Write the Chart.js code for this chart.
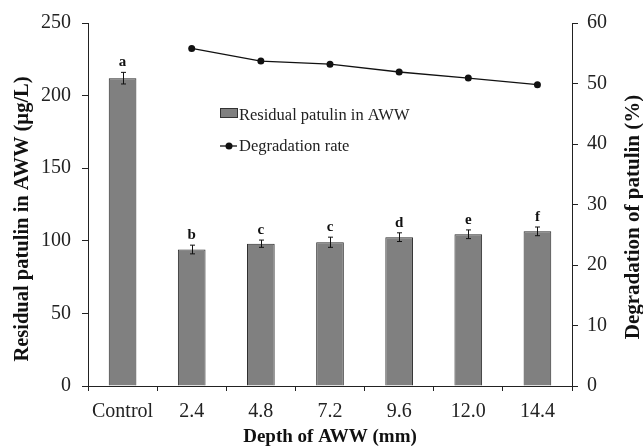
<!DOCTYPE html>
<html><head><meta charset="utf-8">
<script src="https://cdn.jsdelivr.net/npm/chart.js@4/dist/chart.umd.min.js"></script>
<style>html,body{margin:0;padding:0;background:#fff}#wrap{width:643px;height:447px}</style>
</head><body><div id="wrap"><canvas id="c" width="643" height="447"></canvas></div>
<script>
const categories = ['Control', '2.4', '4.8', '7.2', '9.6', '12.0', '14.4'];
const residualPatulin = [212, 94, 98, 99, 102.5, 104.5, 106.5];
const residualError = [4, 3, 2.5, 3.5, 3, 3, 3];
const significanceLetters = ['a', 'b', 'c', 'c', 'd', 'e', 'f'];
const degradationRate = [null, 55.8, 53.7, 53.2, 51.9, 50.9, 49.8];
const leftAxisRange = [0, 250, 50];
const rightAxisRange = [0, 60, 10];
const barLabel = 'Residual patulin in AWW';
const lineLabel = 'Degradation rate';
const xTitle = 'Depth of AWW (mm)';
const yTitle = 'Residual patulin in AWW (\u00b5g/L)';
const y1Title = 'Degradation of patulin (%)';

const SERIF = '"Liberation Serif", "Times New Roman", serif';
const INK = '#222';

const extras = {
  id: 'extras',
  afterDatasetsDraw(chart) {
    const ctx = chart.ctx;
    const y = chart.scales.y;
    const meta = chart.getDatasetMeta(1);
    ctx.save();
    ctx.strokeStyle = '#111';
    ctx.lineWidth = 1;
    ctx.fillStyle = '#111';
    ctx.font = 'bold 15px ' + SERIF;
    ctx.textAlign = 'center';
    ctx.textBaseline = 'alphabetic';
    meta.data.forEach((bar, i) => {
      const x = Math.round(bar.x) + 0.5;
      const yt = y.getPixelForValue(residualPatulin[i] + residualError[i]);
      const yb = y.getPixelForValue(residualPatulin[i] - residualError[i]);
      ctx.beginPath();
      ctx.moveTo(x, yt); ctx.lineTo(x, yb);
      ctx.moveTo(x - 2.5, yt); ctx.lineTo(x + 2.5, yt);
      ctx.moveTo(x - 2.5, yb); ctx.lineTo(x + 2.5, yb);
      ctx.stroke();
      ctx.fillText(significanceLetters[i], bar.x, yt - 6);
    });
    // legend
    const ca = chart.chartArea;
    const lx = ca.left + 132, ly = ca.top + 85;
    ctx.fillStyle = '#808080';
    ctx.fillRect(lx, ly, 18, 10);
    ctx.strokeStyle = '#333';
    ctx.strokeRect(lx + 0.5, ly + 0.5, 17, 9);
    ctx.fillStyle = INK;
    ctx.font = '16.5px ' + SERIF;
    ctx.textAlign = 'left';
    ctx.fillText(barLabel, lx + 19, ly + 12);
    const ly2 = ly + 38;
    ctx.strokeStyle = '#111';
    ctx.lineWidth = 1.3;
    ctx.beginPath(); ctx.moveTo(lx, ly2); ctx.lineTo(lx + 17, ly2); ctx.stroke();
    ctx.fillStyle = '#111';
    ctx.beginPath(); ctx.arc(lx + 9, ly2, 3.5, 0, Math.PI * 2); ctx.fill();
    ctx.fillStyle = INK;
    ctx.fillText(lineLabel, lx + 19, ly2 + 5);
    // axis titles, reading bottom to top
    ctx.font = 'bold 20.5px ' + SERIF;
    ctx.textAlign = 'center';
    ctx.textBaseline = 'middle';
    ctx.fillStyle = '#111';
    ctx.save();
    ctx.translate(23, 219);
    ctx.rotate(-Math.PI / 2);
    ctx.fillText(yTitle, 0, 0);
    ctx.restore();
    ctx.save();
    ctx.translate(634, 217);
    ctx.rotate(-Math.PI / 2);
    ctx.font = 'bold 21px ' + SERIF;
    ctx.fillText(y1Title, 0, 0);
    ctx.restore();
    ctx.restore();
  }
};

new Chart(document.getElementById('c'), {
  data: {
    labels: categories,
    datasets: [
      {
        type: 'line', label: lineLabel, data: degradationRate, yAxisID: 'y1',
        borderColor: '#111', borderWidth: 1.3, backgroundColor: '#111',
        pointRadius: 3.5, pointBackgroundColor: '#111', pointBorderWidth: 0,
        tension: 0, spanGaps: false, order: 0
      },
      {
        type: 'bar', label: barLabel, data: residualPatulin, yAxisID: 'y',
        backgroundColor: '#808080', borderColor: '#2a2a2a', borderWidth: 1,
        barPercentage: 0.4, categoryPercentage: 1, order: 1
      }
    ]
  },
  options: {
    responsive: false, animation: false, devicePixelRatio: 1,
    layout: { padding: { top: 22, left: 0, right: 0, bottom: 0 } },
    plugins: { legend: { display: false }, tooltip: { enabled: false } },
    scales: {
      x: {
        type: 'category', offset: true,
        grid: { display: true, drawOnChartArea: false, offset: true, tickLength: 5, color: INK, lineWidth: 1 },
        border: { display: true, color: INK, width: 1 },
        ticks: { color: INK, font: { family: SERIF, size: 20 }, padding: 9 },
        title: { display: true, text: xTitle, color: '#111', font: { family: SERIF, size: 19, weight: 'bold', lineHeight: 1 }, padding: { top: 0, bottom: 0.5 } },
        afterFit(s) { s.height = 61; }
      },
      y: {
        type: 'linear', position: 'left', min: leftAxisRange[0], max: leftAxisRange[1],
        ticks: { stepSize: leftAxisRange[2], color: INK, font: { family: SERIF, size: 20 }, padding: 11 },
        grid: { display: true, drawOnChartArea: false, tickLength: 6, color: INK },
        border: { display: true, color: INK, width: 1 },
        afterFit(s) { s.width = 88; }
      },
      y1: {
        type: 'linear', position: 'right', min: rightAxisRange[0], max: rightAxisRange[1],
        ticks: { stepSize: rightAxisRange[2], color: INK, font: { family: SERIF, size: 20 }, padding: 9 },
        grid: { display: true, drawOnChartArea: false, tickLength: 6, color: INK },
        border: { display: true, color: INK, width: 1 },
        afterFit(s) { s.width = 71; }
      }
    }
  },
  plugins: [extras]
});
</script>
</body></html>
